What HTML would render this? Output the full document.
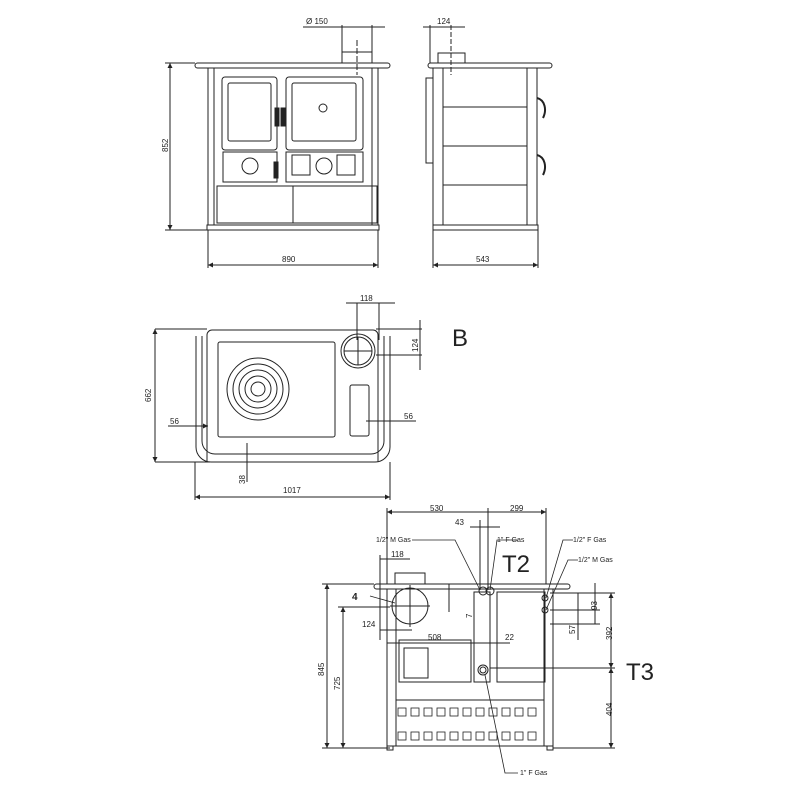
<!DOCTYPE html>
<html><head><meta charset="utf-8"><style>html,body{margin:0;background:#fff}svg{display:block}</style></head>
<body>
<svg width="800" height="800" viewBox="0 0 800 800" xmlns="http://www.w3.org/2000/svg" font-family="Liberation Sans, sans-serif" fill="none" stroke="#222" stroke-width="1">
<defs><marker id="a" viewBox="0 0 6 6" refX="6" refY="3" markerWidth="5" markerHeight="5" orient="auto-start-reverse"><path d="M0,0L6,3L0,6z" fill="#222" stroke="none"/></marker></defs>
<g font-size="8" fill="#222" stroke="none">
<text x="306" y="24">Ø 150</text><text x="437" y="24">124</text>
<text x="282" y="262">890</text><text x="476" y="262">543</text>
<text transform="translate(168,152) rotate(-90)">852</text>
<text x="360" y="301">118</text><text transform="translate(418,352) rotate(-90)">124</text>
<text transform="translate(151,402) rotate(-90)">662</text>
<text x="170" y="424">56</text><text x="404" y="419">56</text>
<text transform="translate(245,484) rotate(-90)">38</text><text x="283" y="493">1017</text>
<text x="430" y="511">530</text><text x="510" y="511">299</text><text x="455" y="525">43</text>
<text x="376" y="542" font-size="7">1/2" M Gas</text><text x="497" y="542" font-size="7">1" F Gas</text>
<text x="573" y="542" font-size="7">1/2" F Gas</text><text x="578" y="562" font-size="7">1/2" M Gas</text>
<text x="391" y="557">118</text><text x="362" y="627">124</text><text x="428" y="640">508</text><text x="505" y="640">22</text>
<text transform="translate(472,618) rotate(-90)">7</text>
<text transform="translate(324,676) rotate(-90)">845</text><text transform="translate(340,690) rotate(-90)">725</text>
<text transform="translate(575,634) rotate(-90)">57</text><text transform="translate(597,610) rotate(-90)">93</text>
<text transform="translate(612,640) rotate(-90)">392</text><text transform="translate(612,716) rotate(-90)">404</text>
<text x="520" y="775" font-size="7">1" F Gas</text>
<text x="352" y="600" font-size="10" font-weight="bold">4</text>
<text x="452" y="346" font-size="24">B</text>
<text x="502" y="572" font-size="24">T2</text><text x="626" y="680" font-size="24">T3</text>
</g>
<rect x="342" y="52" width="30" height="11"/>
<rect x="195" y="63" width="195" height="5" rx="2.5"/>
<rect x="208" y="68" width="170" height="157"/><rect x="214" y="68" width="158" height="157"/>
<rect x="207" y="225" width="172" height="5"/>
<rect x="222" y="77" width="55" height="73" rx="3"/><rect x="228" y="83" width="43" height="58" rx="2"/>
<rect x="286" y="77" width="77" height="73" rx="3"/><rect x="292" y="83" width="64" height="58" rx="2"/>
<circle cx="323" cy="108" r="4"/>
<rect x="223" y="152" width="54" height="30"/><rect x="286" y="152" width="77" height="30"/>
<circle cx="250" cy="166" r="8"/><circle cx="324" cy="166" r="8"/>
<rect x="292" y="155" width="18" height="20"/><rect x="337" y="155" width="18" height="20"/>
<rect x="217" y="186" width="160" height="37"/><line x1="293" y1="186" x2="293" y2="223"/>
<rect x="275" y="108" width="4" height="18" fill="#222"/><rect x="281" y="108" width="4" height="18" fill="#222"/>
<rect x="274" y="162" width="4" height="16" fill="#222"/>
<line x1="357" y1="40" x2="357" y2="75" stroke-dasharray="6,2"/>
<line x1="303" y1="27" x2="385" y2="27"/><line x1="342" y1="25" x2="342" y2="52"/><line x1="372" y1="25" x2="372" y2="52"/>
<line x1="170" y1="63" x2="170" y2="230" marker-start="url(#a)" marker-end="url(#a)"/>
<line x1="165" y1="63" x2="195" y2="63"/><line x1="165" y1="230" x2="207" y2="230"/>
<line x1="208" y1="265" x2="378" y2="265" marker-start="url(#a)" marker-end="url(#a)"/>
<line x1="208" y1="230" x2="208" y2="268"/><line x1="378" y1="230" x2="378" y2="268"/>
<rect x="438" y="53" width="27" height="10"/>
<rect x="428" y="63" width="124" height="5" rx="2.5"/>
<rect x="443" y="68" width="84" height="157"/><rect x="433" y="68" width="10" height="157"/><rect x="527" y="68" width="10" height="157"/>
<line x1="443" y1="107" x2="527" y2="107"/><line x1="443" y1="146" x2="527" y2="146"/><line x1="443" y1="185" x2="527" y2="185"/>
<rect x="426" y="78" width="7" height="85"/>
<path d="M537 98c8 2 10 12 6 20M537 155c8 2 10 12 6 20" stroke-width="2"/>
<rect x="433" y="225" width="105" height="5"/>
<line x1="423" y1="27" x2="465" y2="27"/><line x1="430" y1="25" x2="430" y2="63"/><line x1="451" y1="25" x2="451" y2="75" stroke-dasharray="5,2"/>
<line x1="433" y1="265" x2="538" y2="265" marker-start="url(#a)" marker-end="url(#a)"/>
<line x1="433" y1="230" x2="433" y2="268"/><line x1="538" y1="230" x2="538" y2="268"/>
<path d="M207 462V335a5 5 0 0 1 5-5H373a5 5 0 0 1 5 5V462"/>
<path d="M196 336V447a15 15 0 0 0 15 15H375a15 15 0 0 0 15-15V336"/>
<path d="M202 336V441a13 13 0 0 0 13 13H371a13 13 0 0 0 13-13V336"/>
<rect x="218" y="342" width="117" height="95" rx="2"/>
<circle cx="258" cy="389" r="31"/><circle cx="258" cy="389" r="25"/><circle cx="258" cy="389" r="19"/><circle cx="258" cy="389" r="13"/><circle cx="258" cy="389" r="7"/>
<circle cx="358" cy="351" r="17"/><circle cx="358" cy="351" r="14"/><line x1="358" y1="337" x2="358" y2="365"/><line x1="344" y1="351" x2="372" y2="351"/>
<rect x="350" y="385" width="19" height="51" rx="2"/>
<line x1="155" y1="329" x2="207" y2="329"/><line x1="155" y1="462" x2="210" y2="462"/>
<line x1="155" y1="329" x2="155" y2="462" marker-start="url(#a)" marker-end="url(#a)"/>
<line x1="195" y1="462" x2="195" y2="500"/><line x1="390" y1="462" x2="390" y2="500"/>
<line x1="195" y1="497" x2="390" y2="497" marker-start="url(#a)" marker-end="url(#a)"/>
<line x1="168" y1="426" x2="208" y2="426" marker-end="url(#a)"/><line x1="366" y1="421" x2="416" y2="421"/>
<line x1="346" y1="303" x2="395" y2="303"/><line x1="357" y1="303" x2="357" y2="340"/><line x1="379" y1="303" x2="379" y2="340"/>
<line x1="376" y1="329" x2="422" y2="329"/><line x1="376" y1="355" x2="422" y2="355"/><line x1="420" y1="320" x2="420" y2="370"/>
<line x1="247" y1="443" x2="247" y2="482"/>
<rect x="395" y="573" width="30" height="11"/>
<rect x="374" y="584" width="196" height="5" rx="2.5"/>
<rect x="387" y="589" width="166" height="157"/><rect x="396" y="589" width="148" height="157"/>
<circle cx="410" cy="606" r="18"/><line x1="410" y1="585" x2="410" y2="627"/><line x1="390" y1="606" x2="430" y2="606"/>
<rect x="497" y="592" width="48" height="90"/><rect x="399" y="640" width="72" height="42"/><rect x="404" y="648" width="24" height="30"/>
<rect x="474" y="592" width="16" height="90"/>
<circle cx="483" cy="591" r="4"/><circle cx="490" cy="591" r="4"/><circle cx="545" cy="598" r="3"/><circle cx="545" cy="610" r="3"/>
<circle cx="483" cy="670" r="5"/><circle cx="483" cy="670" r="3"/>
<line x1="396" y1="700" x2="544" y2="700"/>
<g stroke-width="0.8">
<rect x="398" y="708" width="8" height="8"/><rect x="411" y="708" width="8" height="8"/><rect x="424" y="708" width="8" height="8"/><rect x="437" y="708" width="8" height="8"/><rect x="450" y="708" width="8" height="8"/><rect x="463" y="708" width="8" height="8"/><rect x="476" y="708" width="8" height="8"/><rect x="489" y="708" width="8" height="8"/><rect x="502" y="708" width="8" height="8"/><rect x="515" y="708" width="8" height="8"/><rect x="528" y="708" width="8" height="8"/>
<rect x="398" y="732" width="8" height="8"/><rect x="411" y="732" width="8" height="8"/><rect x="424" y="732" width="8" height="8"/><rect x="437" y="732" width="8" height="8"/><rect x="450" y="732" width="8" height="8"/><rect x="463" y="732" width="8" height="8"/><rect x="476" y="732" width="8" height="8"/><rect x="489" y="732" width="8" height="8"/><rect x="502" y="732" width="8" height="8"/><rect x="515" y="732" width="8" height="8"/><rect x="528" y="732" width="8" height="8"/>
</g>
<rect x="387" y="746" width="6" height="4"/><rect x="547" y="746" width="6" height="4"/>
<line x1="387" y1="512" x2="546" y2="512" marker-start="url(#a)" marker-end="url(#a)"/>
<line x1="387" y1="508" x2="387" y2="584"/><line x1="488" y1="508" x2="488" y2="590"/><line x1="546" y1="508" x2="546" y2="584"/><line x1="480" y1="520" x2="480" y2="590"/>
<line x1="470" y1="527" x2="500" y2="527"/>
<line x1="380" y1="559" x2="410" y2="559"/><line x1="380" y1="555" x2="380" y2="640"/>
<line x1="380" y1="630" x2="412" y2="630"/><line x1="387" y1="643" x2="510" y2="643"/>
<path d="M412 540H455L480 590M518 540H497L490 590M573 540H563L546 598M578 560H568L546 610M485 675L505 773H518" stroke-width="0.8"/>
<path d="M370 596L395 603" stroke-width="0.8"/>
<line x1="322" y1="584" x2="374" y2="584"/><line x1="322" y1="748" x2="390" y2="748"/>
<line x1="327" y1="584" x2="327" y2="748" marker-start="url(#a)" marker-end="url(#a)"/>
<line x1="338" y1="607" x2="390" y2="607"/><line x1="343" y1="607" x2="343" y2="748" marker-start="url(#a)" marker-end="url(#a)"/>
<line x1="490" y1="668" x2="615" y2="668"/><line x1="553" y1="748" x2="615" y2="748"/>
<line x1="611" y1="593" x2="611" y2="668" marker-start="url(#a)" marker-end="url(#a)"/>
<line x1="611" y1="668" x2="611" y2="748" marker-start="url(#a)" marker-end="url(#a)"/>
<line x1="550" y1="593" x2="615" y2="593"/><line x1="550" y1="610" x2="600" y2="610"/><line x1="550" y1="624" x2="600" y2="624"/>
<line x1="595" y1="583" x2="595" y2="624"/><line x1="578" y1="593" x2="578" y2="640"/>
<line x1="449" y1="584" x2="449" y2="612"/>
</svg>
</body></html>
